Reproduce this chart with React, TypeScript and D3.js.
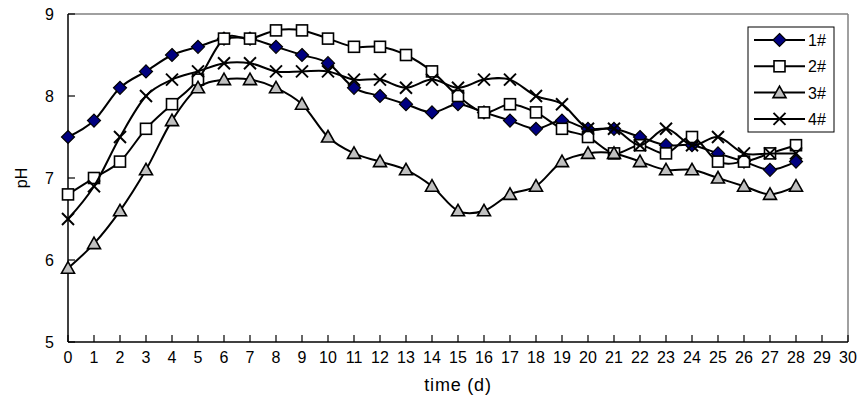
import React from "react";
import * as d3 from "d3";

const days = d3.range(0, 29);
const s1 = [7.5, 7.7, 8.1, 8.3, 8.5, 8.6, 8.7, 8.7, 8.6, 8.5, 8.4, 8.1, 8.0, 7.9, 7.8, 7.9, 7.8, 7.7, 7.6, 7.7, 7.6, 7.6, 7.5, 7.4, 7.4, 7.3, 7.2, 7.1, 7.2];
const s2 = [6.8, 7.0, 7.2, 7.6, 7.9, 8.2, 8.7, 8.7, 8.8, 8.8, 8.7, 8.6, 8.6, 8.5, 8.3, 8.0, 7.8, 7.9, 7.8, 7.6, 7.5, 7.3, 7.4, 7.3, 7.5, 7.2, 7.2, 7.3, 7.4];
const s3 = [5.9, 6.2, 6.6, 7.1, 7.7, 8.1, 8.2, 8.2, 8.1, 7.9, 7.5, 7.3, 7.2, 7.1, 6.9, 6.6, 6.6, 6.8, 6.9, 7.2, 7.3, 7.3, 7.2, 7.1, 7.1, 7.0, 6.9, 6.8, 6.9];
const s4 = [6.5, 6.9, 7.5, 8.0, 8.2, 8.3, 8.4, 8.4, 8.3, 8.3, 8.3, 8.2, 8.2, 8.1, 8.2, 8.1, 8.2, 8.2, 8.0, 7.9, 7.6, 7.6, 7.4, 7.6, 7.4, 7.5, 7.3, 7.3, 7.3];
const seriesNames = ["1#", "2#", "3#", "4#"];
const xTicks = d3.range(0, 31);
const yTicks = [5, 6, 7, 8, 9];

const W = 859, H = 399;
const L = 68, R = 848, T = 14, B = 342;

function Marker({ kind, x, y }: { kind: number; x: number; y: number }) {
  const s = 6;
  if (kind === 0) {
    return <path d={`M${x},${y - s - 0.5}L${x + s + 0.5},${y}L${x},${y + s + 0.5}L${x - s - 0.5},${y}Z`} fill="#000080" stroke="#000" strokeWidth={1.2} />;
  }
  if (kind === 1) {
    return <rect x={x - 5.5} y={y - 5.5} width={11} height={11} fill="#fff" stroke="#000" strokeWidth={1.6} />;
  }
  if (kind === 2) {
    return <path d={`M${x},${y - 6.5}L${x + 6.5},${y + 5}L${x - 6.5},${y + 5}Z`} fill="#c0c0c0" stroke="#000" strokeWidth={1.6} />;
  }
  return (
    <g stroke="#000" strokeWidth={2}>
      <line x1={x - 6} y1={y - 6} x2={x + 6} y2={y + 6} />
      <line x1={x - 6} y1={y + 6} x2={x + 6} y2={y - 6} />
    </g>
  );
}

export default function App() {
  const x = d3.scaleLinear().domain([0, 30]).range([L, R]);
  const y = d3.scaleLinear().domain([5, 9]).range([B, T]);
  const all = [s1, s2, s3, s4];
  const line = d3
    .line<number>()
    .x((_, i) => x(days[i]))
    .y((d) => y(d))
    .curve(d3.curveCatmullRom.alpha(0));
  const font = "Liberation Sans, Arial, sans-serif";
  const legX = 748, legY = 27;
  return (
    <svg width={W} height={H} style={{ position: "absolute", left: 0, top: 0 }} fontFamily={font}>
      <rect x={0} y={0} width={W} height={H} fill="#fff" />
      <line x1={L} y1={T} x2={R} y2={T} stroke="#808080" strokeWidth={1.5} />
      <line x1={R} y1={T} x2={R} y2={B} stroke="#808080" strokeWidth={1.5} />
      <line x1={L} y1={T} x2={L} y2={B} stroke="#000" strokeWidth={1.5} />
      <line x1={L} y1={B} x2={R} y2={B} stroke="#000" strokeWidth={1.5} />
      {yTicks.map((t) => (
        <g key={"y" + t}>
          <line x1={L} x2={L + 7} y1={y(t)} y2={y(t)} stroke="#000" strokeWidth={1.2} />
          <text x={L - 14} y={y(t) + 6} textAnchor="end" fontSize={16}>{t}</text>
        </g>
      ))}
      {xTicks.map((t) => (
        <g key={"x" + t}>
          <line x1={x(t)} x2={x(t)} y1={B} y2={B - 7} stroke="#000" strokeWidth={1.2} />
          <text x={x(t)} y={362.5} textAnchor="middle" fontSize={16}>{t}</text>
        </g>
      ))}
      <text x={(L + R) / 2} y={391} textAnchor="middle" fontSize={18} letterSpacing={0.8}>time (d)</text>
      <text transform={`translate(27,178) rotate(-90)`} textAnchor="middle" fontSize={16}>pH</text>
      {all.map((s, k) => (
        <g key={"s" + k}>
          <path d={line(s) || ""} fill="none" stroke="#000" strokeWidth={2} />
          {s.map((v, i) => (
            <Marker key={i} kind={k} x={x(days[i])} y={y(v)} />
          ))}
        </g>
      ))}
      <rect x={legX} y={legY} width={86} height={105} fill="#fff" stroke="#000" strokeWidth={1} />
      {seriesNames.map((n, k) => {
        const ly = 40 + k * 26.3;
        return (
          <g key={n}>
            <line x1={754} x2={805} y1={ly} y2={ly} stroke="#000" strokeWidth={2} />
            <Marker kind={k} x={779.5} y={ly} />
            <text x={808} y={ly + 6} fontSize={16}>{n}</text>
          </g>
        );
      })}
    </svg>
  );
}
